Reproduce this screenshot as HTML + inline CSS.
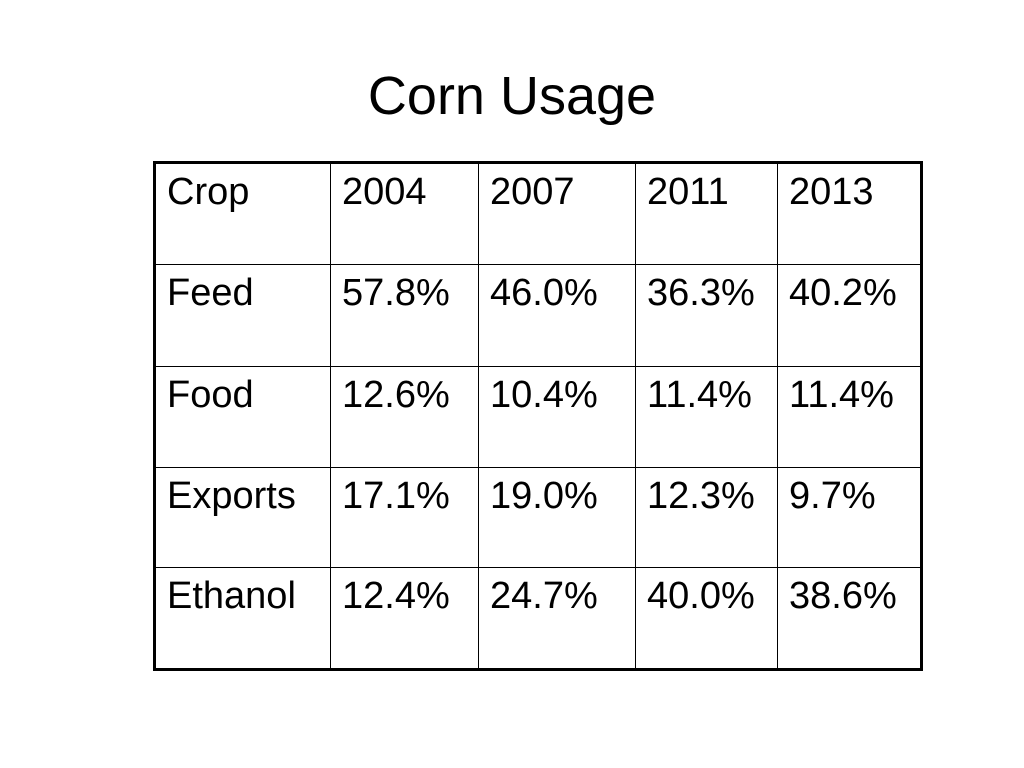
<!DOCTYPE html>
<html><head><meta charset="utf-8"><style>
body{margin:0;width:1024px;height:768px;background:#fff;position:relative;font-family:"Liberation Sans",sans-serif;overflow:hidden}
#title{position:absolute;left:0;width:1024px;top:66px;text-align:center;font-size:54px;color:#000;line-height:60px}
table{position:absolute;left:153px;top:161px;border-collapse:collapse;border:3px solid #000}
td{border:1px solid #000;vertical-align:top;font-size:38px;padding:6px 0 0 11px;box-sizing:border-box;color:#000;line-height:44px;white-space:nowrap;overflow:hidden}
</style></head><body>
<div id="title">Corn Usage</div>
<table><tbody id="tb"></tbody></table>
<script>
const headers=["Crop","2004","2007","2011","2013"];
const crops=["Feed","Food","Exports","Ethanol"];
const v2004=["57.8%","12.6%","17.1%","12.4%"];
const v2007=["46.0%","10.4%","19.0%","24.7%"];
const v2011=["36.3%","11.4%","12.3%","40.0%"];
const v2013=["40.2%","11.4%","9.7%","38.6%"];
const widths=[176,148,157,142,144];
const heights=[102,102,101,100,102];
const tb=document.getElementById('tb');
const rows=[headers].concat(crops.map((c,i)=>[c,v2004[i],v2007[i],v2011[i],v2013[i]]));
rows.forEach((r,ri)=>{
  const tr=document.createElement('tr');
  
  
  r.forEach((t,ci)=>{
    const td=document.createElement('td');
    
    
    td.style.width=widths[ci]+'px';
    td.style.maxWidth=widths[ci]+'px';
    td.style.height=heights[ri]+'px';
    td.textContent=t;
    tr.appendChild(td);
  });
  tb.appendChild(tr);
});
</script>
</body></html>
